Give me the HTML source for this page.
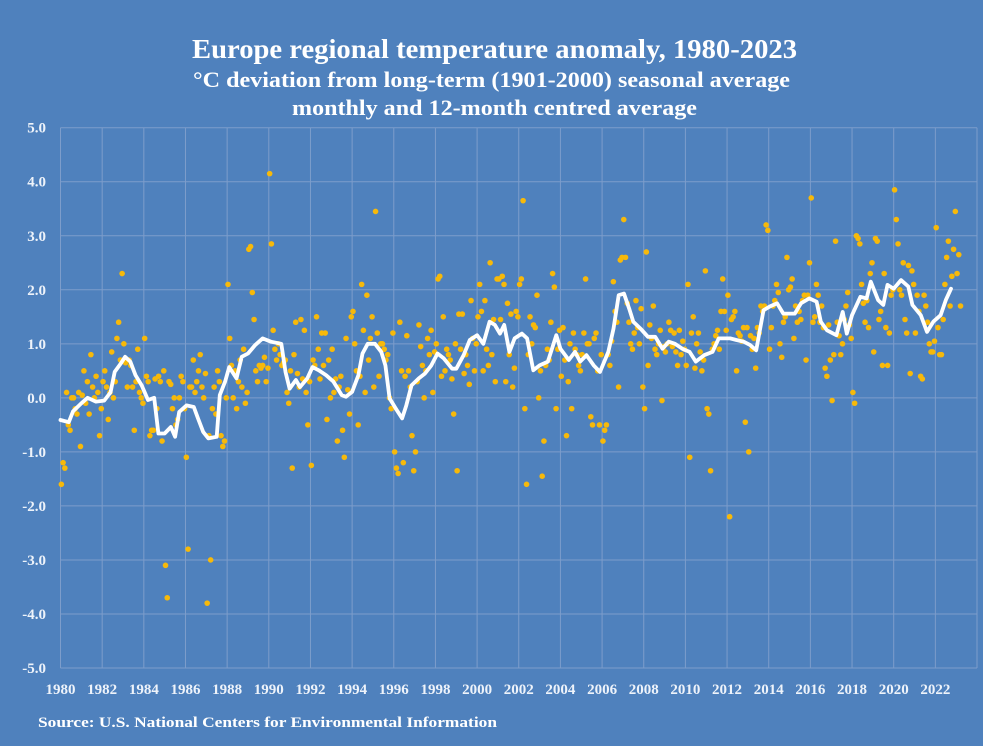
<!DOCTYPE html>
<html><head><meta charset="utf-8"><style>
html,body{margin:0;padding:0;background:#4f81bd;}
svg{display:block;font-family:"Liberation Serif",serif;}
</style></head><body>
<svg id="chart" width="983" height="746" viewBox="0 0 983 746" xmlns="http://www.w3.org/2000/svg">
<rect width="983" height="746" fill="#4f81bd"/>
<text x="192" y="58" textLength="605" lengthAdjust="spacingAndGlyphs" fill="#fff" font-size="27" font-weight="bold">Europe regional temperature anomaly, 1980-2023</text>
<text x="193" y="87" textLength="597" lengthAdjust="spacingAndGlyphs" fill="#fff" font-size="22" font-weight="bold">°C deviation from long-term (1901-2000) seasonal average</text>
<text x="292" y="115" textLength="405" lengthAdjust="spacingAndGlyphs" fill="#fff" font-size="22" font-weight="bold">monthly and 12-month centred average</text>
<g id="grid"></g>
<g id="yaxis"></g>
<g id="xaxis"></g>
<g id="dots"></g>
<g id="linegrp"></g>
<text x="38" y="727" textLength="459" lengthAdjust="spacingAndGlyphs" fill="#fff" font-size="15" font-weight="bold">Source: U.S. National Centers for Environmental Information</text>
</svg>
<script>
const startYear = 1980;
const yTicks = [5,4,3,2,1,0,-1,-2,-3,-4,-5];
const yTickLabels = ["5.0","4.0","3.0","2.0","1.0","0.0","-1.0","-2.0","-3.0","-4.0","-5.0"];
const xTickYears = [1980,1982,1984,1986,1988,1990,1992,1994,1996,1998,2000,2002,2004,2006,2008,2010,2012,2014,2016,2018,2020,2022];
const monthly = [
-1.6,-1.2,-1.3,0.1,-0.5,-0.6,0.0,0.0,-0.2,-0.3,0.1,-0.9,
0.05,0.5,-0.1,0.3,-0.3,0.8,0.2,0.0,0.4,0.1,-0.7,-0.2,
0.3,0.5,0.2,-0.4,0.1,0.85,0.0,0.3,1.1,1.4,0.7,2.3,
1.0,0.65,0.2,0.7,0.6,0.2,-0.6,0.3,0.9,0.1,0.0,-0.1,
1.1,0.4,0.3,-0.7,-0.6,-0.6,0.35,-0.2,0.4,0.3,-0.8,0.5,
-3.1,-3.7,0.3,0.25,-0.2,0.0,-0.5,-0.4,0.0,0.4,0.3,-0.2,
-1.1,-2.8,0.2,0.2,0.7,0.1,0.3,0.5,0.8,0.2,0.0,0.45,
-3.8,-0.7,-3.0,-0.2,0.2,-0.3,0.5,0.3,-0.7,-0.9,-0.8,0.0,
2.1,1.1,0.6,0.0,0.5,-0.2,0.3,0.7,0.2,0.9,-0.1,0.1,
2.75,2.8,1.95,1.45,0.5,0.3,0.6,0.55,0.6,0.75,0.3,0.55,
4.15,2.85,1.25,0.9,0.7,1.0,0.8,0.6,0.65,0.7,0.1,-0.1,
0.5,-1.3,0.8,1.4,0.45,0.2,1.45,0.35,1.25,0.1,-0.5,0.3,
-1.25,0.7,0.6,1.5,0.9,0.35,1.2,0.6,1.2,-0.4,0.7,0.0,
0.9,0.1,0.35,-0.8,0.2,0.4,-0.6,-1.1,1.1,0.15,-0.3,1.5,
1.6,1.0,0.5,-0.5,0.4,2.1,1.25,0.1,1.9,0.7,1.1,1.5,
0.2,3.45,1.2,0.4,1.0,1.0,0.9,0.7,0.8,0.0,-0.2,1.2,
-1.0,-1.3,-1.4,1.4,0.5,-1.2,0.4,1.15,0.5,0.2,-0.7,-1.35,
-1.0,0.3,1.35,0.95,0.6,0.0,0.5,1.1,0.8,1.25,0.1,0.85,
1.0,2.2,2.25,0.4,1.5,0.5,0.9,0.8,0.7,0.35,-0.3,1.0,
-1.35,1.55,0.9,1.55,0.45,0.8,0.6,0.25,1.8,1.1,0.5,1.0,
1.5,2.1,1.6,0.5,1.8,0.9,0.6,2.5,0.8,1.45,0.3,2.2,
2.2,1.45,2.25,2.1,0.3,1.75,0.8,1.55,0.2,0.55,1.6,1.5,
2.1,2.2,3.65,-0.2,-1.6,0.8,1.5,1.0,1.35,1.3,1.9,0.0,
0.5,-1.45,-0.8,0.6,0.9,0.7,1.4,2.3,2.05,-0.2,0.9,1.25,
0.4,1.3,0.7,-0.7,0.3,1.0,-0.2,1.2,0.9,0.8,0.6,0.5,
0.8,1.2,2.2,1.0,1.0,-0.35,-0.5,1.1,1.2,0.5,-0.5,0.8,
-0.8,-0.6,-0.5,0.8,0.6,1.05,2.15,1.6,1.4,0.2,2.55,2.6,
3.3,2.6,1.75,1.4,1.0,0.9,1.2,1.8,1.3,1.0,1.65,0.2,
-0.2,2.7,0.6,1.35,1.1,1.7,0.9,0.8,1.0,1.25,-0.05,0.95,
0.85,1.0,1.4,1.25,0.95,1.2,0.85,0.6,1.25,0.8,1.05,0.9,
0.6,2.1,-1.1,1.2,1.5,0.55,1.0,1.2,0.85,0.5,0.7,2.35,
-0.2,-0.3,-1.35,0.9,1.0,1.15,1.25,0.9,1.6,2.2,1.6,1.25,
1.9,-2.2,1.45,1.5,1.6,0.5,1.2,1.15,1.05,1.3,-0.45,1.3,
-1.0,1.15,0.9,1.1,0.55,1.3,1.2,1.7,1.6,1.7,3.2,3.1,
0.9,1.3,1.7,1.8,2.1,1.95,1.0,0.75,1.4,1.5,2.6,2.0,
2.05,2.2,1.1,1.7,1.4,1.6,1.45,1.8,1.9,0.7,1.9,2.5,
3.7,1.4,1.5,2.1,1.9,1.4,1.7,1.3,0.55,0.4,1.35,0.7,
-0.05,0.8,2.9,1.4,1.15,0.8,1.0,1.45,1.7,1.95,1.35,1.1,
0.1,-0.1,3.0,2.95,2.85,2.1,1.75,1.4,1.8,1.3,2.3,2.5,
0.85,2.95,2.9,1.45,1.6,0.6,2.3,1.3,0.6,1.2,1.9,2.0,
3.85,3.3,2.85,2.0,1.9,2.5,1.45,1.2,2.45,0.45,2.35,2.1,
1.2,1.9,1.6,0.4,0.35,1.9,1.7,1.4,1.0,0.85,0.85,1.05,
3.15,1.3,0.8,0.8,1.45,2.1,2.6,2.9,1.7,2.25,2.75,3.45,
2.3,2.65,1.7
];
const avgYears = [1980.0,1980.4,1980.6,1981.0,1981.3,1981.7,1982.1,1982.4,1982.6,1982.9,1983.1,1983.35,1983.6,1983.9,1984.2,1984.5,1984.7,1985.0,1985.3,1985.5,1985.7,1986.05,1986.4,1986.6,1986.85,1987.1,1987.5,1987.65,1987.9,1988.1,1988.45,1988.7,1989.0,1989.35,1989.7,1990.1,1990.6,1990.8,1991.0,1991.3,1991.5,1991.85,1992.1,1992.4,1992.75,1993.1,1993.5,1993.7,1994.0,1994.3,1994.5,1994.75,1995.1,1995.4,1995.6,1995.8,1996.1,1996.4,1996.6,1996.85,1997.2,1997.5,1997.8,1998.1,1998.4,1998.8,1999.0,1999.35,1999.65,2000.0,2000.3,2000.6,2000.85,2001.1,2001.3,2001.55,2001.8,2002.15,2002.4,2002.7,2003.0,2003.4,2003.8,2004.0,2004.4,2004.7,2004.95,2005.25,2005.6,2005.9,2006.3,2006.55,2006.8,2007.05,2007.3,2007.5,2007.85,2008.2,2008.55,2008.9,2009.2,2009.5,2009.85,2010.2,2010.5,2010.9,2011.3,2011.6,2012.15,2012.45,2012.8,2013.1,2013.4,2013.75,2014.05,2014.4,2014.7,2015.25,2015.55,2015.95,2016.3,2016.5,2016.8,2017.25,2017.55,2017.75,2018.0,2018.4,2018.7,2018.9,2019.25,2019.5,2019.7,2020.0,2020.35,2020.7,2020.9,2021.3,2021.6,2021.9,2022.25,2022.5,2022.75];
const avgValues = [-0.41,-0.45,-0.25,-0.1,0.0,-0.07,-0.05,0.1,0.48,0.64,0.76,0.67,0.42,0.23,-0.04,0.0,-0.66,-0.66,-0.54,-0.72,-0.26,-0.14,-0.17,-0.38,-0.63,-0.75,-0.72,0.05,0.3,0.57,0.36,0.76,0.82,0.98,1.1,1.04,1.0,0.48,0.17,0.33,0.2,0.36,0.57,0.51,0.42,0.3,0.05,0.02,0.11,0.42,0.82,1.0,1.0,0.85,0.6,-0.01,-0.2,-0.38,-0.14,0.23,0.36,0.45,0.6,0.82,0.73,0.54,0.54,0.79,1.07,1.16,1.0,1.41,1.35,1.19,1.35,0.85,1.1,1.19,1.1,0.51,0.6,0.67,1.16,0.91,0.7,0.85,0.67,0.79,0.6,0.48,0.85,1.28,1.9,1.93,1.65,1.41,1.28,1.13,1.13,0.91,1.04,1.0,0.91,0.85,0.67,0.79,0.85,1.1,1.1,1.07,1.04,0.98,0.88,1.62,1.69,1.75,1.56,1.56,1.75,1.84,1.78,1.41,1.25,1.16,1.59,1.19,1.53,1.87,1.84,2.15,1.81,1.72,2.09,2.02,2.18,2.06,1.72,1.53,1.22,1.41,1.53,1.81,2.02];

const NS = "http://www.w3.org/2000/svg";
const L = 60.5, R = 977, T = 127.7, B = 668;
const pxPerYear = 20.83;
function xOf(year){ return L + (year - startYear) * pxPerYear; }
function yOf(v){ return T + (5 - v) * (B - T) / 10; }
function mk(tag, attrs, parent){ const e=document.createElementNS(NS,tag); for(const k in attrs) e.setAttribute(k, attrs[k]); parent.appendChild(e); return e; }

const grid = document.getElementById('grid');
const yaxis = document.getElementById('yaxis');
const xaxis = document.getElementById('xaxis');
yTicks.forEach((v,i)=>{
  const ln = mk('line',{x1:L,x2:R,y1:yOf(v),y2:yOf(v),stroke:'#7d9dcb','stroke-width':1},grid);
  
  
  const t = mk('text',{x:46,y:yOf(v)+5,'text-anchor':'end',fill:'#eef3fa','font-size':15,'font-weight':'bold'},yaxis);
  t.textContent = yTickLabels[i];
  
  
});
xTickYears.forEach(yr=>{
  const ln = mk('line',{x1:xOf(yr),x2:xOf(yr),y1:T,y2:B,stroke:'#7d9dcb','stroke-width':1},grid);
  
  
  const t = mk('text',{x:xOf(yr),y:694,'text-anchor':'middle',fill:'#eef3fa','font-size':15,'font-weight':'bold'},xaxis);
  t.textContent = String(yr);
  
  
});
const rl = mk('line',{x1:R,x2:R,y1:T,y2:B,stroke:'#7d9dcb','stroke-width':1},grid);



const dots = document.getElementById('dots');
monthly.forEach((v,i)=>{
  const c = mk('circle',{cx:xOf(startYear + (i+0.5)/12),cy:yOf(v),r:2.8,fill:'#f7b90a'},dots);
  
  
});

const lg = document.getElementById('linegrp');
const d = avgYears.map((yr,i)=>(i?'L':'M')+xOf(yr).toFixed(1)+' '+yOf(avgValues[i]).toFixed(1)).join(' ');
const p = mk('path',{d:d,fill:'none',stroke:'#ffffff','stroke-width':3.8,'stroke-linejoin':'round','stroke-linecap':'round'},lg);


</script>
</body></html>
